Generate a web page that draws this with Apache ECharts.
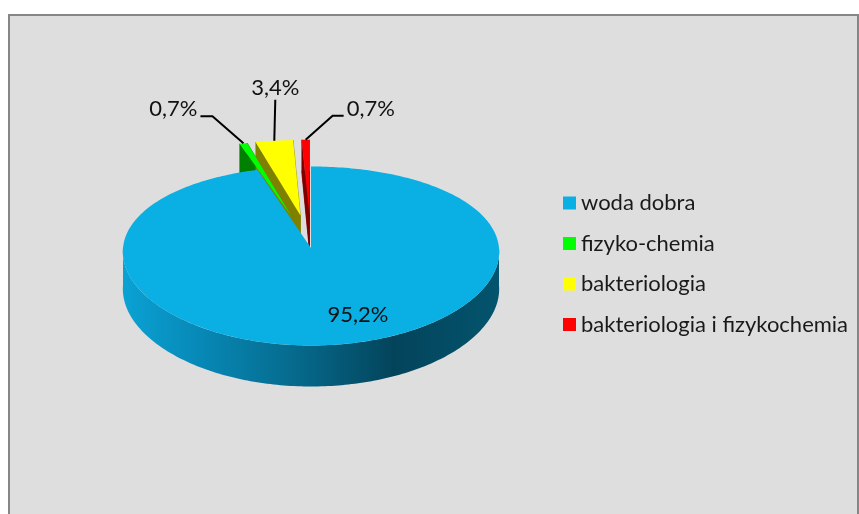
<!DOCTYPE html>
<html>
<head>
<meta charset="utf-8">
<script src="https://cdn.jsdelivr.net/npm/echarts@6/dist/echarts.min.js"></script>
<style>
  html, body { margin: 0; padding: 0; background: #fff; }
  #chart { width: 859px; height: 514px; }
</style>
</head>
<body>
<div id="chart"></div>
<script>
// data
const categories = ['woda dobra', 'fizyko-chemia', 'bakteriologia', 'bakteriologia i fizykochemia'];
const values = [95.2, 0.7, 3.4, 0.7];
const valueLabels = ['95,2%', '0,7%', '3,4%', '0,7%'];

// look
const topColors = ['#0AB0E4', '#00FF00', '#FFFF00', '#FF0000'];
const wallColors = ['#0680AA', '#008000', '#808000', '#800000'];
const explode = [0, 0.38, 0.38, 0.38];
const FONT = 'Lato';
const FONT_SIZE = 22;

// pie geometry (screen px), slight perspective
const CX = 311, CY = 248, RX = 188, RY = 89.5, RQ = 8;
const proj = (p) => [CX + p[0] * (RX + 8 * p[1]), CY + RY * p[1] + RQ * p[1] * p[1]];
const depth = (pz) => 37 + 4 * pz;
const down = (p) => { const s = proj(p); return [s[0], s[1] + depth(p[1])]; };

const total = values.reduce((a, b) => a + b, 0);

function arcPoints(a0, a1, r, off) {
  const pts = [];
  const n = Math.max(2, Math.ceil(a1 - a0));
  for (let k = 0; k <= n; k++) {
    const a = (a0 + (a1 - a0) * k / n) * Math.PI / 180;
    pts.push([off[0] + r * Math.sin(a), off[1] - r * Math.cos(a)]);
  }
  return pts;
}

const blueWall = {
  type: 'linear', x: CX - RX, y: 0, x2: CX + RX, y2: 0, global: true,
  colorStops: [
    { offset: 0, color: '#0AA2D4' },
    { offset: 0.2, color: '#0789B7' },
    { offset: 0.45, color: '#066B8E' },
    { offset: 0.72, color: '#03445B' },
    { offset: 1, color: '#03546E' }
  ]
};

// leader line layout for small slices: points relative to the anchor, text side
const leaders = [
  null,
  { pts: [[-31, -27], [-43, -27]], align: 'right' },
  { pts: [[1, -41]], align: 'center' },
  { pts: [[27, -24], [38, -24]], align: 'left' }
];

function renderSlice(i) {
  return function (params, api) {
    const v = api.value(0);
    let before = 0;
    for (let k = 0; k < i; k++) before += values[k];
    const a0 = before / total * 360;
    const a1 = a0 + v / total * 360;
    const mid = (a0 + a1) / 2 * Math.PI / 180;
    const off = [explode[i] * Math.sin(mid), -explode[i] * Math.cos(mid)];
    const arc = arcPoints(a0, a1, 1, off);
    const plane = [off].concat(arc);
    const top = plane.map(proj);
    const children = [];
    const wallFill = i === 0 ? blueWall : wallColors[i];

    if (i !== 0) {
      children.push({ type: 'polygon', z2: 0, shape: { points: plane.map(down) },
        style: { fill: wallColors[i], stroke: wallColors[i], lineWidth: 0.5 } });
      [[off, arc[0]], [arc[arc.length - 1], off]].forEach(function (e) {
        children.push({ type: 'polygon', z2: 0,
          shape: { points: [proj(e[0]), proj(e[1]), down(e[1]), down(e[0])] },
          style: { fill: wallColors[i], stroke: wallColors[i], lineWidth: 0.5 } });
      });
    }
    const f0 = Math.max(a0, 90), f1 = Math.min(a1, 270);
    if (f1 > f0) {
      const fa = arcPoints(f0, f1, 1, off);
      const pts = fa.map(proj).concat(fa.slice().reverse().map(down));
      children.push({ type: 'polygon', z2: 0, shape: { points: pts }, style: { fill: wallFill } });
    }
    children.push({ type: 'polygon', z2: 1, shape: { points: top }, style: { fill: topColors[i] } });

    const textStyle = { fontFamily: FONT, fontSize: FONT_SIZE, fill: '#111', text: valueLabels[i] };
    if (i === 0) {
      const r = 0.65;
      const c = proj([r * Math.sin(mid), -r * Math.cos(mid)]);
      children.push({ type: 'text', z2: 5, x: c[0] + 28, y: c[1] + 6,
        style: Object.assign(textStyle, { align: 'center', verticalAlign: 'middle' }) });
    } else {
      const anchor = proj([off[0] + Math.sin(mid), off[1] - Math.cos(mid)]);
      const lay = leaders[i];
      const line = [anchor].concat(lay.pts.map(p => [anchor[0] + p[0], anchor[1] + p[1]]));
      const end = line[line.length - 1];
      children.push({ type: 'polyline', z2: 5, shape: { points: line },
        style: { stroke: '#000', lineWidth: 2, fill: null } });
      let tx = end[0], ty = end[1] - 7, va = 'middle';
      if (lay.align === 'right') tx -= 3;
      if (lay.align === 'left') tx += 3;
      if (lay.align === 'center') { ty = end[1] - 1; va = 'bottom'; }
      children.push({ type: 'text', z2: 5, x: tx, y: ty,
        style: Object.assign(textStyle, { align: lay.align, verticalAlign: va }) });
    }
    return { type: 'group', children: children };
  };
}

const chart = echarts.init(document.getElementById('chart'));
chart.setOption({
  animation: false,
  graphic: [{
    type: 'rect', z: -10, silent: true,
    shape: { x: 9, y: 15, width: 849, height: 520 },
    style: { fill: '#DEDEDE', stroke: '#868686', lineWidth: 2 }
  }],
  legend: {
    orient: 'vertical',
    left: 558,
    top: 187,
    icon: 'rect',
    itemWidth: 13,
    itemHeight: 13,
    itemGap: 18.5,
    selectedMode: false,
    data: categories,
    textStyle: { fontFamily: FONT, fontSize: FONT_SIZE, color: '#1a1a1a' }
  },
  series: categories.map((name, i) => ({
    type: 'custom',
    name: name,
    coordinateSystem: 'none',
    z: i === 0 ? 3 : 2,
    itemStyle: { color: topColors[i] },
    renderItem: renderSlice(i),
    data: [[values[i]]]
  }))
});
</script>
</body>
</html>
